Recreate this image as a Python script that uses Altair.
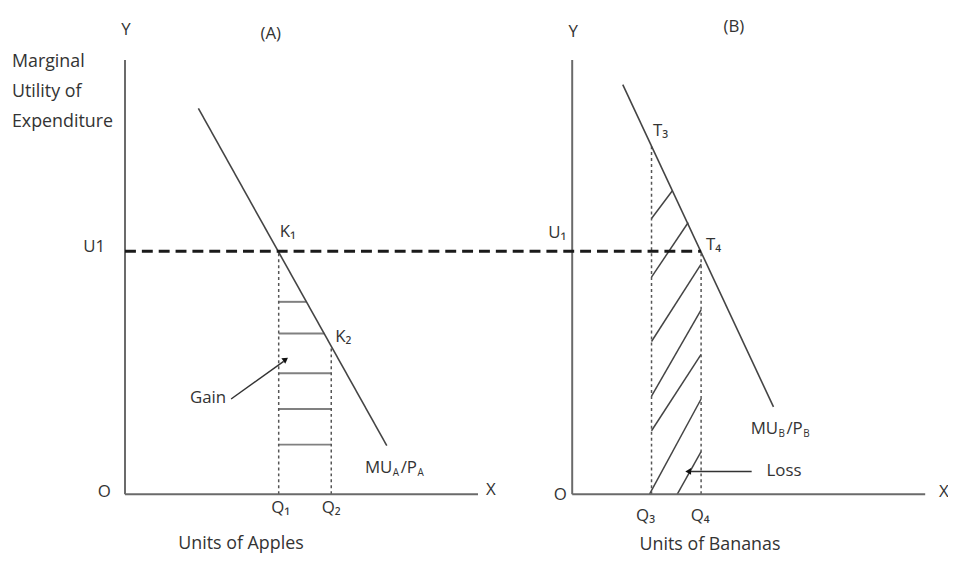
import altair as alt
import pandas as pd

# ---------------- coordinate frame (diagram units, origin of panel A = 0,0) -------------
X_DOMAIN = [-11.8, 83.0]
Y_DOMAIN = [-6.2, 48.8]
B_OFF = 45.1          # horizontal offset of panel B's origin

FONT = "Open Sans"
TXT = "#333333"

# ---------------- Panel A : apples ----------------
A_AXIS_TOP = 43.8
A_AXIS_END = 35.6
A_CURVE_X = [7.4, 26.4]
A_CURVE_Y = [38.9, 4.9]
U1 = 24.5
Q1, Q2 = 15.5, 20.8
Q1_TOP = 24.5
Q2_TOP = 14.9
GAIN_Y = [19.4, 16.2, 12.2, 8.6, 5.0]
GAIN_X_END = [18.3, 20.1, 20.8, 20.8, 20.8]
GAIN_ARROW = [10.7, 9.6, 16.0, 13.4]

# ---------------- Panel B : bananas ----------------
B_AXIS_TOP = 43.8
B_AXIS_END = 35.6
B_CURVE_X = [5.1, 20.3]
B_CURVE_Y = [41.3, 8.8]
Q3, Q4 = 8.0, 13.0
Q3_TOP, Q4_TOP = 35.3, 24.5
LOSS_X1 = [8.0, 8.0, 8.0, 8.0, 8.0, 7.8, 10.6]
LOSS_Y1 = [27.8, 21.9, 15.4, 9.9, 6.4, 0.0, 0.0]
LOSS_X2 = [10.1, 11.7, 13.0, 13.0, 13.0, 13.0, 13.0]
LOSS_Y2 = [30.6, 27.4, 23.2, 18.6, 14.1, 9.6, 4.3]
LOSS_ARROW = [18.1, 2.3, 11.9, 2.3]

# ---------------- labels ----------------
BIG_TEXT = ["Marginal", "Utility of", "Expenditure"]
BIG_X = [-11.4, -11.4, -11.4]
BIG_Y = [43.6, 40.6, 37.5]

BOTTOM_TEXT = ["Units of Apples", "Units of Bananas"]
BOTTOM_X = [11.7, B_OFF + 13.9]
BOTTOM_Y = [-5.0, -5.1]

LEFT_TEXT = ["K₁", "K₂", "X", "T₄", "Loss", "X"]
LEFT_X = [15.6, 21.2, 36.4, B_OFF + 13.5, B_OFF + 19.6, B_OFF + 37.0]
LEFT_Y = [26.4, 15.8, 0.4, 25.1, 2.3, 0.2]

CENTER_TEXT = ["Y", "(A)", "U1", "O", "Q₁", "Q₂",
               "Y", "(B)", "U₁", "T₃", "O", "Q₃", "Q₄"]
CENTER_X = [0.1, 14.7, -3.1, -2.1, 15.7, 20.8,
            B_OFF + 0.1, B_OFF + 16.3, B_OFF - 1.5, B_OFF + 8.9, B_OFF - 1.2,
            B_OFF + 7.4, B_OFF + 12.9]
CENTER_Y = [46.8, 46.4, 24.9, 0.2, -1.4, -1.4,
            46.6, 47.1, 26.3, 36.6, -0.1, -2.2, -2.2]

RIGHT_TEXT = ["Gain"]
RIGHT_X = [10.2]
RIGHT_Y = [9.7]

# MU/P labels built from pieces (main text and subscripts)
MU_TEXT = ["MU", "/P", "MU", "/P"]
MU_X = [24.2, 27.8, B_OFF + 18.0, B_OFF + 21.6]
MU_Y = [2.6, 2.6, 6.6, 6.6]
SUB_TEXT = ["A", "A", "B", "B"]
SUB_X = [27.0, 29.5, B_OFF + 20.8, B_OFF + 23.3]
SUB_Y = [2.1, 2.1, 6.1, 6.1]

xs = alt.Scale(domain=X_DOMAIN, nice=False, zero=False)
ys = alt.Scale(domain=Y_DOMAIN, nice=False, zero=False)


def seg_df(x1, y1, x2, y2):
    return pd.DataFrame({"x1": x1, "y1": y1, "x2": x2, "y2": y2})


def rules(df, **mk):
    return alt.Chart(df).mark_rule(**mk).encode(
        x=alt.X("x1:Q", scale=xs, axis=None),
        y=alt.Y("y1:Q", scale=ys, axis=None),
        x2="x2:Q",
        y2="y2:Q",
    )


def texts(xv, yv, tv, align, size):
    df = pd.DataFrame({"x": xv, "y": yv, "t": tv})
    return alt.Chart(df).mark_text(
        align=align, baseline="middle", font=FONT, color=TXT, fontSize=size
    ).encode(
        x=alt.X("x:Q", scale=xs, axis=None),
        y=alt.Y("y:Q", scale=ys, axis=None),
        text="t:N",
    )


axes = rules(seg_df([0, 0, B_OFF, B_OFF],
                    [0, 0, 0, 0],
                    [0, A_AXIS_END, B_OFF, B_OFF + B_AXIS_END],
                    [A_AXIS_TOP, 0, B_AXIS_TOP, 0]),
             color="#6a6a6a", strokeWidth=2)

curves = rules(seg_df([A_CURVE_X[0], B_OFF + B_CURVE_X[0]],
                      [A_CURVE_Y[0], B_CURVE_Y[0]],
                      [A_CURVE_X[1], B_OFF + B_CURVE_X[1]],
                      [A_CURVE_Y[1], B_CURVE_Y[1]]),
               color="#444444", strokeWidth=1.6)

qlines = rules(seg_df([Q1, Q2, B_OFF + Q3, B_OFF + Q4],
                      [0, 0, 0, 0],
                      [Q1, Q2, B_OFF + Q3, B_OFF + Q4],
                      [Q1_TOP, Q2_TOP, Q3_TOP, Q4_TOP]),
               color="#555555", strokeWidth=1.5, strokeDash=[3, 3])

gain = rules(seg_df([Q1] * len(GAIN_Y), GAIN_Y, GAIN_X_END, GAIN_Y),
             color="#808080", strokeWidth=2)

loss = rules(seg_df([B_OFF + v for v in LOSS_X1], LOSS_Y1,
                    [B_OFF + v for v in LOSS_X2], LOSS_Y2),
             color="#444444", strokeWidth=1.5)

u1 = rules(seg_df([0], [U1], [B_OFF + Q4], [U1]),
           color="#1a1a1a", strokeWidth=3, strokeDash=[11, 6])

arrows = rules(seg_df([GAIN_ARROW[0], B_OFF + LOSS_ARROW[0]],
                      [GAIN_ARROW[1], LOSS_ARROW[1]],
                      [GAIN_ARROW[2], B_OFF + LOSS_ARROW[2]],
                      [GAIN_ARROW[3], LOSS_ARROW[3]]),
               color="#333333", strokeWidth=1.5)

head_gain = alt.Chart(pd.DataFrame({"x": [GAIN_ARROW[2] + 0.2], "y": [GAIN_ARROW[3] + 0.2]})).mark_point(
    shape="triangle-up", angle=54, filled=True, color="#111111", size=45, opacity=1
).encode(x=alt.X("x:Q", scale=xs, axis=None), y=alt.Y("y:Q", scale=ys, axis=None))

head_loss = alt.Chart(pd.DataFrame({"x": [B_OFF + LOSS_ARROW[2] - 0.2], "y": [LOSS_ARROW[3]]})).mark_point(
    shape="triangle-left", filled=True, color="#111111", size=45, opacity=1
).encode(x=alt.X("x:Q", scale=xs, axis=None), y=alt.Y("y:Q", scale=ys, axis=None))

labels = alt.layer(
    texts(BIG_X, BIG_Y, BIG_TEXT, "left", 18),
    texts(BOTTOM_X, BOTTOM_Y, BOTTOM_TEXT, "center", 18),
    texts(LEFT_X, LEFT_Y, LEFT_TEXT, "left", 17),
    texts(CENTER_X, CENTER_Y, CENTER_TEXT, "center", 17),
    texts(RIGHT_X, RIGHT_Y, RIGHT_TEXT, "right", 17),
    texts(MU_X, MU_Y, MU_TEXT, "left", 17),
    texts(SUB_X, SUB_Y, SUB_TEXT, "left", 10),
)

chart = alt.layer(
    gain, loss, qlines, axes, curves, u1, arrows, head_gain, head_loss, labels
).properties(
    width=948, height=550,
    autosize=alt.AutoSizeParams(type="none"),
    padding=0,
    background="white",
).configure_view(strokeWidth=0)

chart.save("out.html", embed_options={"renderer": "svg", "actions": False})
